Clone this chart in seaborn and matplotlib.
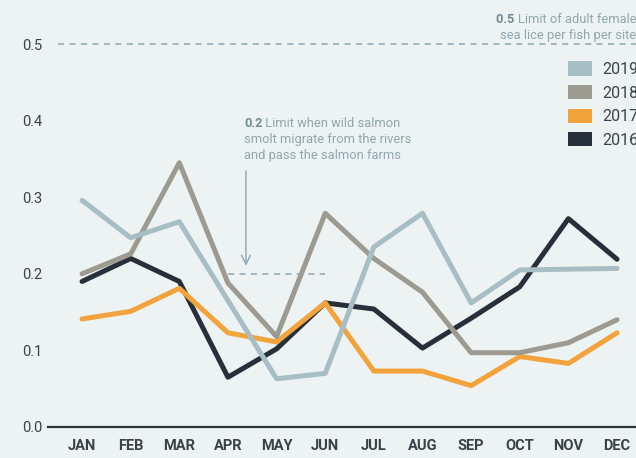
import pandas as pd
import seaborn as sns
import matplotlib.pyplot as plt
from matplotlib.patches import Patch

sns.set_theme(style="white")
plt.rcParams['font.family'] = ['Roboto', 'DejaVu Sans']

months = ["JAN", "FEB", "MAR", "APR", "MAY", "JUN", "JUL", "AUG", "SEP", "OCT", "NOV", "DEC"]
lice_2019 = [0.296, 0.247, 0.268, 0.165, 0.063, 0.070, 0.235, 0.279, 0.162, 0.205, 0.206, 0.207]
lice_2018 = [0.200, 0.226, 0.345, 0.188, 0.118, 0.279, 0.220, 0.176, 0.097, 0.097, 0.110, 0.140]
lice_2017 = [0.141, 0.151, 0.181, 0.123, 0.111, 0.162, 0.073, 0.073, 0.054, 0.092, 0.083, 0.123]
lice_2016 = [0.190, 0.220, 0.190, 0.065, 0.102, 0.162, 0.154, 0.103, 0.142, 0.183, 0.272, 0.219]
years = ["2019", "2018", "2017", "2016"]
colors = {"2019": "#a7bec4", "2018": "#9c9a91", "2017": "#f2a33c", "2016": "#27303a"}

bg = "#edf2f2"
txt = "#3b4148"
note = "#8fa7b1"
note_bold = "#6f8b97"

df = pd.concat([
    pd.DataFrame({"month": months, "lice": vals, "year": yr})
    for yr, vals in zip(["2016", "2017", "2018", "2019"], [lice_2016, lice_2017, lice_2018, lice_2019])
])

fig = plt.figure(figsize=(6.36, 4.58), dpi=100, facecolor=bg)
ax = fig.add_axes([48 / 636, 31 / 458, 588 / 636, 383 / 458], facecolor=bg)

sns.lineplot(data=df, x="month", y="lice", hue="year", palette=colors, linewidth=3.6,
             legend=False, ax=ax, sort=False)

ax.set_xlim(-0.7, 11.39)
ax.set_ylim(0, 0.5)
ax.set_yticks([0.0, 0.1, 0.2, 0.3, 0.4, 0.5])
ax.set_yticklabels(["0.0", "0.1", "0.2", "0.3", "0.4", "0.5"])
ax.set_xlabel("")
ax.set_ylabel("")
for s in ["top", "right", "left"]:
    ax.spines[s].set_visible(False)
ax.spines["bottom"].set_color("#2f353c")
ax.spines["bottom"].set_linewidth(1.6)
ax.tick_params(axis="y", length=0, pad=4, labelsize=10.5, labelcolor=txt)
ax.tick_params(axis="x", length=0, pad=9, labelsize=10.5, labelcolor=txt)
for lab in ax.get_xticklabels():
    lab.set_fontweight("bold")

# limit lines
ax.plot([-0.5, 11.6], [0.5, 0.5], ls=(0, (4, 3.5)), color=note, lw=1.1, clip_on=False)
ax.plot([3, 5], [0.2, 0.2], ls=(0, (4, 3.5)), color=note, lw=1.1)
ax.annotate("", xy=(3.37, 0.207), xytext=(3.37, 0.338),
            arrowprops=dict(arrowstyle="->", color=note, lw=1.0, mutation_scale=16))

# annotations
fs = 9.3
t1 = ax.text(3.33, 0.392, "0.2", color=note_bold, fontsize=fs, fontweight="bold",
             va="baseline", ha="left")
ax.annotate(" Limit when wild salmon", xy=(1, 0), xycoords=t1, color=note, fontsize=fs,
            va="bottom", ha="left")
ax.text(3.33, 0.371, "smolt migrate from the rivers", color=note, fontsize=fs,
        va="baseline", ha="left")
ax.text(3.33, 0.350, "and pass the salmon farms", color=note, fontsize=fs,
        va="baseline", ha="left")

t2 = ax.text(11.40, 0.528, "Limit of adult female", color=note, fontsize=fs,
             va="baseline", ha="right", clip_on=False)
ax.annotate("0.5 ", xy=(0, 0), xycoords=t2, color=note_bold, fontsize=fs,
            fontweight="bold", va="bottom", ha="right")
ax.text(11.40, 0.507, "sea lice per fish per site", color=note, fontsize=fs,
        va="baseline", ha="right", clip_on=False)

handles = [Patch(facecolor=colors[y], edgecolor="none") for y in years]
fig.legend(handles, years, loc="upper left", bbox_to_anchor=(554 / 636, 1 - 47 / 458),
           frameon=False, fontsize=11.5, handlelength=1.5, handleheight=1.0,
           handletextpad=0.6, labelspacing=0.5, labelcolor=txt)

fig.savefig("out.png", dpi=100, facecolor=bg)
